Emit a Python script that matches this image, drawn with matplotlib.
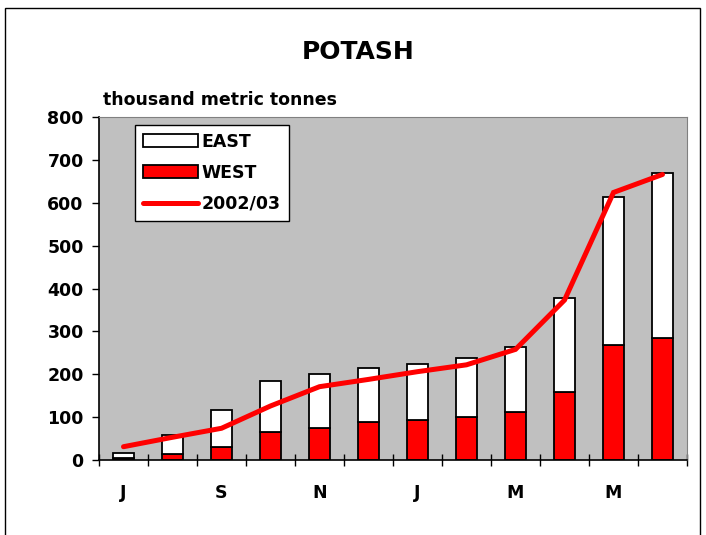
import numpy as np
import matplotlib
matplotlib.use('Agg')
import matplotlib.pyplot as plt
from matplotlib.patches import Rectangle, Patch
from matplotlib.lines import Line2D

plt.rcParams['font.family'] = ['DejaVu Sans']
plt.rcParams['font.weight'] = 'bold'

# July 2002 .. June 2003
months = ['J', 'A', 'S', 'O', 'N', 'D', 'J', 'F', 'M', 'A', 'M', 'J']
west = [5, 13, 30, 65, 75, 88, 93, 101, 113, 159, 268, 284]
total = [17, 58, 117, 184, 200, 214, 223, 239, 264, 379, 613, 669]
east = [t - w for t, w in zip(total, west)]
prev_year = [31, 53, 74, 126, 171, 188, 206, 222, 258, 373, 624, 666]
shown_labels = {0: 'J', 2: 'S', 4: 'N', 6: 'J', 8: 'M', 10: 'M'}

fig = plt.figure(figsize=(7.06, 5.35), dpi=100)
fig.patches.append(Rectangle((5 / 706, -0.1), 695 / 706, 1.1 - 8 / 535,
                             transform=fig.transFigure, fill=False,
                             edgecolor='black', linewidth=1.0))

ax = fig.add_axes([99 / 706, 1 - 460 / 535, 588 / 706, 343 / 535])
ax.set_facecolor('#C0C0C0')

x = np.arange(len(months))
ax.bar(x, west, width=0.42, color='#FF0000', edgecolor='black', linewidth=1.3, zorder=2)
ax.bar(x, east, width=0.42, bottom=west, color='white', edgecolor='black', linewidth=1.3, zorder=2)
ax.plot(x, prev_year, color='#FF0000', linewidth=3.6, solid_capstyle='round',
        solid_joinstyle='miter', zorder=3)

ax.set_xlim(-0.5, 11.5)
ax.set_ylim(0, 800)
ax.set_yticks(range(0, 801, 100))
ax.tick_params(axis='y', direction='out', length=5, width=1, pad=6, labelsize=12.5)
for lab in ax.get_yticklabels():
    lab.set_fontweight('bold')

ax.set_xticks(np.arange(-0.5, 12, 1))
ax.set_xticklabels([])
ax.tick_params(axis='x', which='major', direction='inout', length=8, width=1)
ax.set_xticks(list(shown_labels.keys()), minor=True)
ax.set_xticklabels(list(shown_labels.values()), minor=True, fontsize=12.5, fontweight='bold')
ax.tick_params(axis='x', which='minor', length=0, pad=17)

for s in ['top', 'right']:
    ax.spines[s].set_color('#808080')
for s in ['left', 'bottom']:
    ax.spines[s].set_color('black')
    ax.spines[s].set_linewidth(1.2)

handles = [Patch(facecolor='white', edgecolor='black', linewidth=1.3),
           Patch(facecolor='#FF0000', edgecolor='black', linewidth=1.3),
           Line2D([0], [0], color='#FF0000', linewidth=3.6, solid_capstyle='round')]
leg = ax.legend(handles, ['EAST', 'WEST', '2002/03'], loc='upper left',
                bbox_to_anchor=(36 / 588, 1 - 8 / 343), fancybox=False,
                edgecolor='black', framealpha=1, prop={'weight': 'bold', 'size': 12.5},
                handlelength=3.2, handleheight=0.8, handletextpad=0.2,
                borderpad=0.45, labelspacing=0.75, borderaxespad=0)
leg.get_frame().set_linewidth(1.0)

fig.text(358 / 706, 1 - 52 / 535, 'POTASH', ha='center', va='center',
         fontsize=18, fontweight='bold')
fig.text(103 / 706, 1 - 100 / 535, 'thousand metric tonnes', ha='left', va='center',
         fontsize=12.5, fontweight='bold')

fig.savefig('out.png', dpi=100)
